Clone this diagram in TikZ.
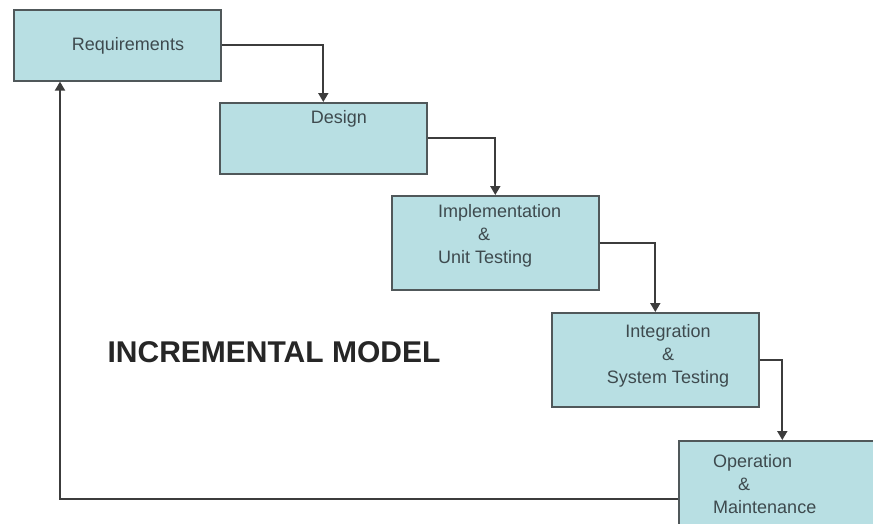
\documentclass[tikz,border=0pt]{standalone}
\usepackage{fontspec}
\setmainfont{Liberation Sans}
\usetikzlibrary{arrows.meta}
\definecolor{boxfill}{RGB}{184,223,227}
\definecolor{boxline}{RGB}{80,88,90}
\definecolor{boxtext}{RGB}{62,74,78}
\definecolor{arrowline}{RGB}{60,60,60}
\tikzset{
  phase/.style={draw=boxline, fill=boxfill, line width=1.6pt, anchor=north west,
    minimum width=207pt, inner sep=0pt},
  short/.style={phase, minimum height=71pt},
  tall/.style={phase, minimum height=94pt},
  txt/.style={text=boxtext, font=\fontsize{18}{23}\selectfont, inner sep=0pt},
  flow/.style={draw=arrowline, line width=1.8pt, -{Triangle[length=9pt, width=10pt]}}
}
\begin{document}
\begin{tikzpicture}[x=1pt, y=-1pt]
            \useasboundingbox (0, 0) rectangle (873, 523);
            \clip (0, 0) rectangle (873, 523);
            \fill [white] (0, 0) rectangle (873, 523);
            % phases
            \node [short] (req) at (13, 9) {};
            \node [short] (des) at (219, 102) {};
            \node [tall] (imp) at (391, 195) {};
            \node [tall] (int) at (551, 312) {};
            \node [tall] (ope) at (678, 440) {};
            % labels
            \node [txt] (reqtext) at (128, 46) {Requirements};
            \node [txt] (destext) at (339, 119) {Design};
            \node [txt, anchor=west, align=left] (imptext) at (438, 236) {Implementation\\\hspace*{40pt}\&\\Unit Testing};
            \node [txt, align=center] (inttext) at (668, 356) {Integration\\\&\\System Testing};
            \node [txt, anchor=west, align=left] (opetext) at (713, 484) {Operation\\\hspace*{25pt}\&\\Maintenance};
            \node [font=\bfseries\fontsize{30}{36}\selectfont, text=black!85] (title) at (274, 352) {INCREMENTAL MODEL};
            % flow
            \draw [flow] (req.east) -| (des.north);
            \draw [flow] (des.east) -| (imp.north);
            \draw [flow] (imp.east) -| (int.north);
            \draw [flow] (int.east) -| (ope.north);
            \coordinate (back) at ([yshift=-11pt]ope.west);
            \coordinate (up) at ([xshift=47pt]req.south west);
            \draw [flow] (back) -| (up);
        \end{tikzpicture}
\end{document}
